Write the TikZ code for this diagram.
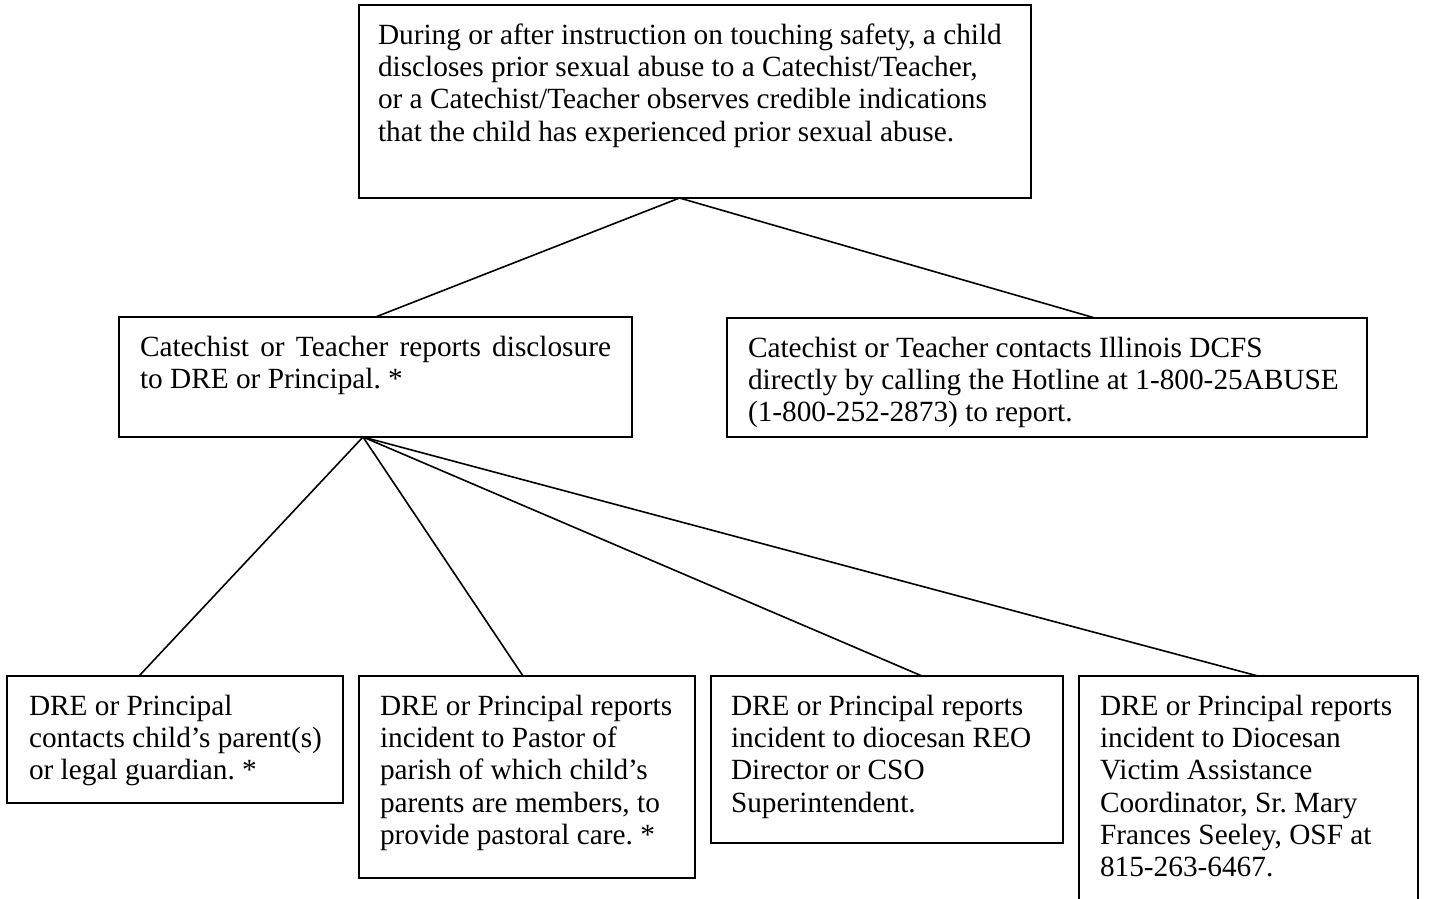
\documentclass[tikz,border=0pt]{standalone}
\usepackage{fontspec}
\setmainfont{Liberation Serif}
\frenchspacing
\begin{document}
\frenchspacing
\begin{tikzpicture}[x=1pt,y=-1pt,
  box/.style={draw=black,line width=2pt,outer sep=0pt,inner sep=0pt,anchor=north west},
  txt/.style={inner sep=0pt,outer sep=0pt,anchor=north west,align=left,
    font=\fontsize{29.3}{32.2}\selectfont\frenchspacing},
  link/.style={draw=black,line width=1.6pt}]
\useasboundingbox (0,0) rectangle (1439,898);
\clip (0,0) rectangle (1439,898);
% boxes
\node[box,minimum width=672pt,minimum height=193pt] (top) at (359,5) {};
\node[box,minimum width=513pt,minimum height=120pt] (ml) at (119,317) {};
\node[box,minimum width=640pt,minimum height=119pt] (mr) at (727,318) {};
\node[box,minimum width=336pt,minimum height=127pt] (b1) at (7,676) {};
\node[box,minimum width=336pt,minimum height=202pt] (b2) at (359,676) {};
\node[box,minimum width=352pt,minimum height=167pt] (b3) at (711,676) {};
\node[box,minimum width=339pt,minimum height=240pt] (b4) at (1079,676) {};
% texts
\node[txt] (topt) at ([xshift=19pt,yshift=-17pt]top.north west)
  {\strut During or after instruction on touching safety, a child\\
   discloses prior sexual abuse to a Catechist/Teacher,\\
   or a Catechist/Teacher observes credible indications\\
   that the child has experienced prior sexual abuse.};
\node[txt] (mlt) at ([xshift=21pt,yshift=-17pt]ml.north west)
  {\strut\makebox[471pt][s]{Catechist or Teacher reports disclosure}\\
   to DRE or Principal. *};
\node[txt] (mrt) at ([xshift=21pt,yshift=-17pt]mr.north west)
  {\strut Catechist or Teacher contacts Illinois DCFS\\
   directly by calling the Hotline at 1-800-25ABUSE\\
   (1-800-252-2873) to report.};
\node[txt] (b1t) at ([xshift=22pt,yshift=-17pt]b1.north west)
  {\strut DRE or Principal\\
   contacts child’s parent(s)\\
   or legal guardian. *};
\node[txt] (b2t) at ([xshift=21pt,yshift=-17pt]b2.north west)
  {\strut DRE or Principal reports\\
   incident to Pastor of\\
   parish of which child’s\\
   parents are members, to\\
   provide pastoral care. *};
\node[txt] (b3t) at ([xshift=20pt,yshift=-17pt]b3.north west)
  {\strut DRE or Principal reports\\
   incident to diocesan REO\\
   Director or CSO\\
   Superintendent.};
\node[txt] (b4t) at ([xshift=21pt,yshift=-17pt]b4.north west)
  {\strut DRE or Principal reports\\
   incident to Diocesan\\
   Victim Assistance\\
   Coordinator, Sr. Mary\\
   Frances Seeley, OSF at\\
   815-263-6467.};
% connectors
\draw[link] ([xshift=-15.5pt]top.south) -- (ml.north);
\draw[link] ([xshift=-15.5pt]top.south) -- ([xshift=48pt]mr.north);
\draw[link] ([xshift=-12.5pt]ml.south) -- ([xshift=-36pt]b1.north);
\draw[link] ([xshift=-12.5pt]ml.south) -- ([xshift=-4pt]b2.north);
\draw[link] ([xshift=-12.5pt]ml.south) -- ([xshift=35pt]b3.north);
\draw[link] ([xshift=-12.5pt]ml.south) -- ([xshift=9.5pt]b4.north);
\end{tikzpicture}
\end{document}
